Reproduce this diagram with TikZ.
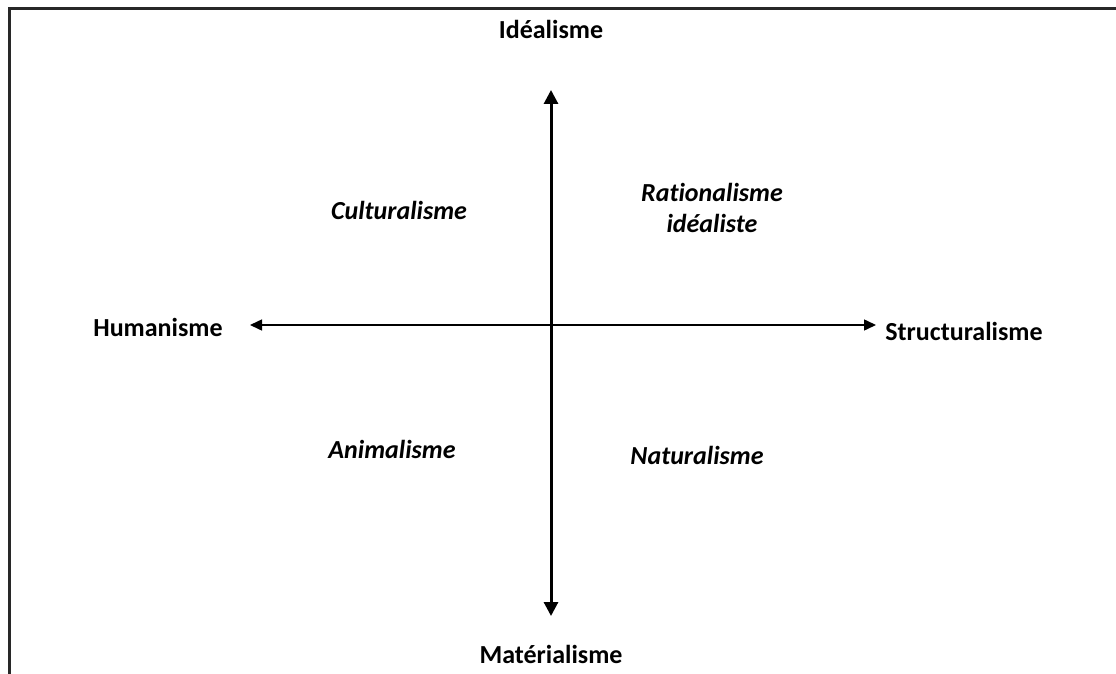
\documentclass[tikz,border=0pt]{standalone}
\usepackage{fontspec}
\setmainfont[Ligatures=NoCommon]{Carlito}
\usetikzlibrary{arrows.meta}
\definecolor{cAxis}{RGB}{0,0,0}
\definecolor{cFrame}{RGB}{40,40,40}

\begin{document}
\begin{tikzpicture}[
  x=1pt, y=-1pt,
  font=\fontsize{26}{30}\selectfont\bfseries,
  pole/.style={font=\fontsize{26}{30}\selectfont\bfseries, inner sep=0pt},
  quad/.style={font=\fontsize{26}{31}\selectfont\bfseries\itshape,
    align=center, inner sep=0pt},
  vaxis/.style={{Triangle[length=14pt,width=14pt]}-{Triangle[length=14pt,width=14pt]},
    line width=3pt, cAxis},
  haxis/.style={{Triangle[length=12pt,width=11pt]}-{Triangle[length=12pt,width=11pt]},
    line width=1.5pt, cAxis},
]
\useasboundingbox (0,0) rectangle (1116,674);

% Open frame (top and left only).
\draw[cFrame, line width=3pt] (9,674) -- (9,9) -- (1116,9);

% Axis ends.
\coordinate (top) at (551,90);
\coordinate (bottom) at (551,616);
\coordinate (left) at (250,325);
\coordinate (right) at (876,325);

\draw[haxis] (left) -- (right);
\draw[vaxis] (bottom) -- (top);

% Poles.
\node[pole] (ideal) at (551,29) {Idéalisme};
\node[pole] (mater) at (551,654) {Matérialisme};
\node[pole] (human) at (158,327) {Humanisme};
\node[pole] (struct) at (964,331) {Structuralisme};

% Quadrants.
\node[quad] (cult) at (399,210) {Culturalisme};
\node[quad] (ratio) at (712,208) {Rationalisme\\ idéaliste};
\node[quad] (anim) at (392,449) {Animalisme};
\node[quad] (natur) at (697,455) {Naturalisme};

\end{tikzpicture}
\end{document}
